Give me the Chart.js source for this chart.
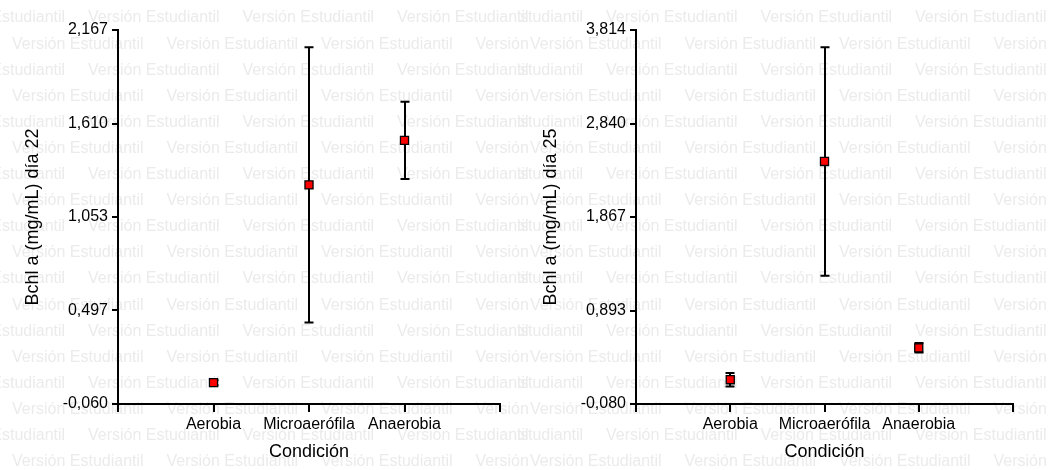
<!DOCTYPE html>
<html>
<head>
<meta charset="utf-8">
<script src="https://cdn.jsdelivr.net/npm/chart.js@4.4.1/dist/chart.umd.min.js"></script>
<style>
  body { margin: 0; background: #fff; }
  .panel { position: absolute; top: 0; }
</style>
</head>
<body>
<div class="panel" style="left:0"><canvas id="chart22" width="528" height="470"></canvas></div>
<div class="panel" style="left:518px"><canvas id="chart25" width="531" height="470"></canvas></div>
<script>
const categories = ['Aerobia', 'Microaerófila', 'Anaerobia'];

// dia 22
const means22 = [0.067, 1.245, 1.51];
const errors22 = [0.015, 0.82, 0.23];
const yTicks22 = [-0.060, 0.497, 1.053, 1.610, 2.167];

// dia 25
const means25 = [0.173, 2.445, 0.505];
const errors25 = [0.07, 1.19, 0.05];
const yTicks25 = [-0.080, 0.893, 1.867, 2.840, 3.814];

const FONT = '"Liberation Sans", Arial, sans-serif';

// "Versión Estudiantil" background text
const watermark = {
    id: 'watermark',
    beforeDraw(chart, args, opts) {
        const ctx = chart.ctx;
        ctx.save();
        if (opts.fill) {
            ctx.fillStyle = '#fff';
            ctx.fillRect(0, 0, chart.width, chart.height);
        }
        ctx.font = '16px ' + FONT;
        ctx.fillStyle = '#ebebeb';
        ctx.textBaseline = 'middle';
        for (let row = 0; row < 19; row++) {
            const y = 18 + row * 26.1;
            for (let x = row % 2 === 0 ? -66.5 : 12; x < chart.width; x += 154.5) {
                ctx.fillText('Versión Estudiantil', x, y);
            }
        }
        ctx.restore();
    }
};

// vertical error bars with caps, drawn under the markers
const errorBars = {
    id: 'errorBars',
    beforeDatasetsDraw(chart, args, opts) {
        const { ctx, scales: { x, y } } = chart;
        ctx.save();
        ctx.strokeStyle = '#000';
        ctx.lineWidth = 2;
        opts.means.forEach((m, i) => {
            const px = Math.round(x.getPixelForValue(i + 1));
            const top = y.getPixelForValue(m + opts.errors[i]);
            const bot = y.getPixelForValue(m - opts.errors[i]);
            ctx.beginPath();
            ctx.moveTo(px, top); ctx.lineTo(px, bot);
            ctx.moveTo(px - 4.5, top); ctx.lineTo(px + 4.5, top);
            ctx.moveTo(px - 4.5, bot); ctx.lineTo(px + 4.5, bot);
            ctx.stroke();
        });
        ctx.restore();
    }
};

function makeChart(canvasId, means, errors, yTicks, yTitle, padRight, fillBg) {
    const ctx = document.getElementById(canvasId).getContext('2d');
    new Chart(ctx, {
        type: 'scatter',
        data: {
            datasets: [{
                data: means.map((m, i) => ({ x: i + 1, y: m })),
                pointStyle: 'rect',
                pointRadius: 5.7,
                backgroundColor: '#ff0000',
                borderColor: '#000',
                borderWidth: 1.3,
            }]
        },
        options: {
            responsive: false,
            animation: false,
            layout: { padding: { left: 0, right: padRight, top: 30, bottom: 0 } },
            plugins: {
                legend: { display: false },
                tooltip: { enabled: false },
                watermark: { fill: fillBg },
                errorBars: { means: means, errors: errors },
            },
            scales: {
                x: {
                    type: 'linear',
                    min: 0,
                    max: 4,
                    afterBuildTicks: (s) => { s.ticks = [0, 1, 2, 3, 4].map((v) => ({ value: v })); },
                    afterFit: (s) => { s.height = 66; },
                    ticks: {
                        autoSkip: false,
                        maxRotation: 0,
                        padding: 3,
                        color: '#000',
                        font: { family: FONT, size: 16 },
                        callback: (v) => categories[v - 1] || '',
                    },
                    grid: { display: true, drawOnChartArea: false, drawTicks: true, tickLength: 8, color: '#000', lineWidth: 2 },
                    border: { display: true, color: '#000', width: 2 },
                    title: {
                        display: true,
                        text: 'Condición',
                        color: '#000',
                        font: { family: FONT, size: 18 },
                        padding: { top: 0, bottom: 7 },
                    },
                },
                y: {
                    type: 'linear',
                    min: yTicks[0],
                    max: yTicks[yTicks.length - 1],
                    afterBuildTicks: (s) => { s.ticks = yTicks.map((v) => ({ value: v })); },
                    afterFit: (s) => { s.width = 118; },
                    ticks: {
                        padding: 4,
                        color: '#000',
                        font: { family: FONT, size: 16 },
                        callback: (v) => v.toFixed(3).replace('.', ','),
                    },
                    grid: { display: true, drawOnChartArea: false, drawTicks: true, tickLength: 6, color: '#000', lineWidth: 2 },
                    border: { display: true, color: '#000', width: 2 },
                    title: {
                        display: true,
                        text: yTitle,
                        color: '#000',
                        font: { family: FONT, size: 18 },
                        padding: { top: 22, bottom: 0 },
                    },
                },
            },
        },
        plugins: [watermark, errorBars],
    });
}

makeChart('chart22', means22, errors22, yTicks22, 'Bchl a (mg/mL) día 22', 28, true);
makeChart('chart25', means25, errors25, yTicks25, 'Bchl a (mg/mL) día 25', 36, false);
</script>
</body>
</html>
